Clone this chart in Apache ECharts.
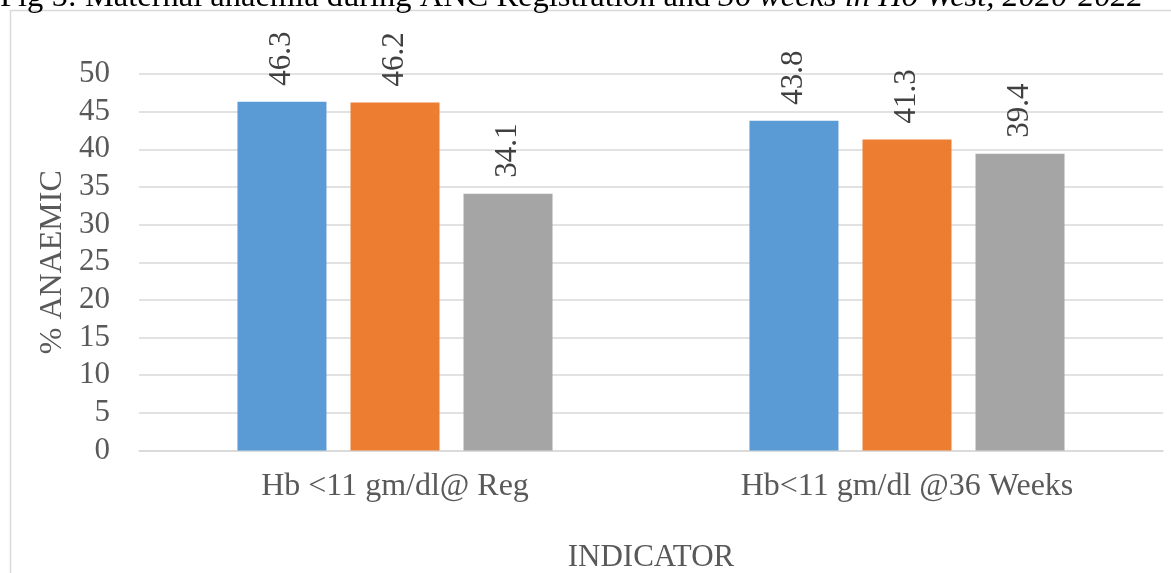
<!DOCTYPE html>
<html>
<head>
<meta charset="utf-8">
<script src="https://cdn.jsdelivr.net/npm/echarts@6/dist/echarts.min.js"></script>
<style>html,body{margin:0;padding:0;background:#fff}#c{width:1171px;height:573px}</style>
</head>
<body>
<div id="c"></div>
<script>
const categories = ['Hb <11 gm/dl@ Reg', 'Hb<11 gm/dl @36 Weeks'];
const seriesNames = ['2020', '2021', '2022'];
const values2020 = [46.3, 43.8];
const values2021 = [46.2, 41.3];
const values2022 = [34.1, 39.4];
const colors = ['#5B9BD5', '#ED7D31', '#A5A5A5'];
const font = '"Liberation Serif","Times New Roman",serif';

const chart = echarts.init(document.getElementById('c'));
const mk = (name, data, color) => ({
  name, type: 'bar', data, barWidth: 89, barGap: '27%',
  itemStyle: { color },
  label: {
    show: true, position: 'top', rotate: 90, align: 'left', verticalAlign: 'middle',
    distance: 16, color: '#404040', fontFamily: font, fontSize: 31,
    formatter: p => p.value.toFixed(1)
  }
});
chart.setOption({
  animation: false,
  title: {
    text: '{a|Fig 5: Maternal anaemia during ANC Registration and }{b|36 weeks in Ho West, 2020-2022}',
    left: 0, top: -19, padding: 0,
    textStyle: {
      fontWeight: 'normal',
      rich: {
        a: { fontFamily: font, fontSize: 32.5, color: '#000', fontWeight: 'normal' },
        b: { fontFamily: font, fontSize: 32.5, color: '#000', fontWeight: 'normal', fontStyle: 'italic' }
      }
    }
  },
  graphic: [{
    type: 'rect', silent: true,
    shape: { x: 10.5, y: 10.5, width: 1400, height: 800 },
    style: { fill: 'none', stroke: '#d9d9d9', lineWidth: 1.5 }
  }],
  grid: { left: 139, right: 8, top: 74, bottom: 122.5, containLabel: false, outerBoundsMode: 'none' },
  xAxis: {
    type: 'category', data: categories,
    axisTick: { show: false },
    axisLine: { lineStyle: { color: '#d9d9d9', width: 1.5 } },
    axisLabel: { color: '#595959', fontFamily: font, fontSize: 32, margin: 20 },
    name: 'INDICATOR', nameLocation: 'middle', nameGap: 92,
    nameTextStyle: { color: '#595959', fontFamily: font, fontSize: 31 }
  },
  yAxis: {
    type: 'value', min: 0, max: 50, interval: 5,
    axisLine: { show: false }, axisTick: { show: false },
    splitLine: { lineStyle: { color: '#d9d9d9', width: 1.5 } },
    axisLabel: { color: '#595959', fontFamily: font, fontSize: 31, margin: 29 },
    name: '% ANAEMIC', nameLocation: 'middle', nameRotate: 90, nameGap: 68,
    nameTextStyle: { color: '#595959', fontFamily: font, fontSize: 32 }
  },
  series: [
    mk(seriesNames[0], values2020, colors[0]),
    mk(seriesNames[1], values2021, colors[1]),
    mk(seriesNames[2], values2022, colors[2])
  ]
});
</script>
</body>
</html>
